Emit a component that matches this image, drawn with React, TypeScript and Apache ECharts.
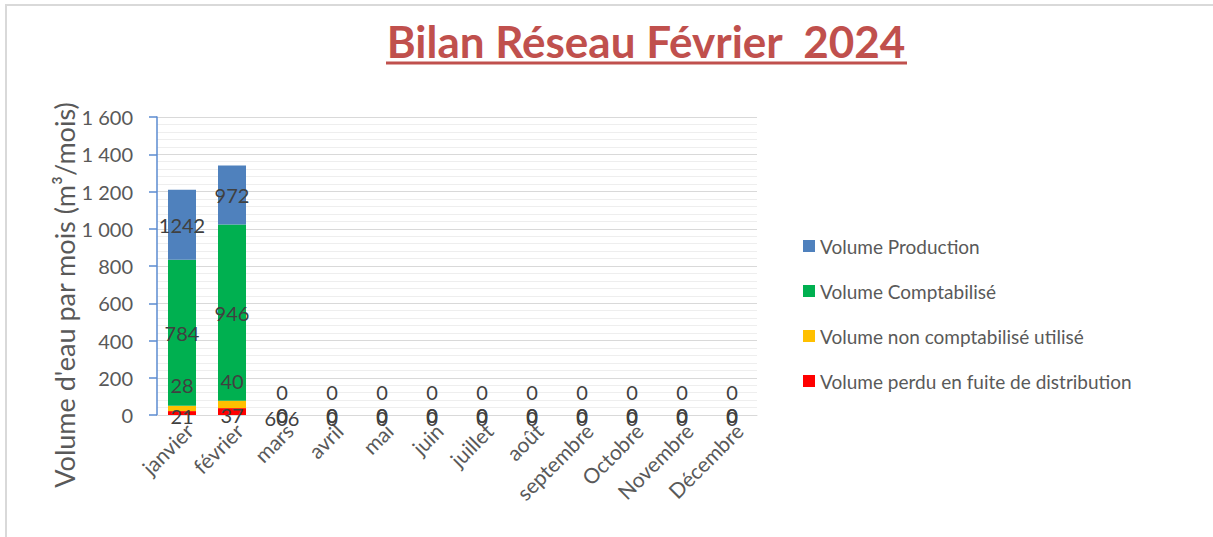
import React, { useEffect, useRef } from "react";
import * as echarts from "echarts";

const months = ["janvier", "février", "mars", "avril", "mai", "juin", "juillet", "août", "septembre", "Octobre", "Novembre", "Décembre"];
// visible stacked heights (m³/mois)
const perdu = [21, 37, 0, 0, 0, 0, 0, 0, 0, 0, 0, 0];
const nonComptabilise = [28, 40, 0, 0, 0, 0, 0, 0, 0, 0, 0, 0];
const comptabilise = [784, 946, 0, 0, 0, 0, 0, 0, 0, 0, 0, 0];
const production = [377, 316, 0, 0, 0, 0, 0, 0, 0, 0, 0, 0];
// data label texts as shown in the chart
const perduLabels = ["21", "37", "606", "0", "0", "0", "0", "0", "0", "0", "0", "0"];
const nonComptaLabels = ["28", "40", "0", "0", "0", "0", "0", "0", "0", "0", "0", "0"];
const comptaLabels = ["784", "946", "0", "0", "0", "0", "0", "0", "0", "0", "0", "0"];
const productionLabels = ["1242", "972", "0", "0", "0", "0", "0", "0", "0", "0", "0", "0"];

const FONT = "Lato, 'Open Sans', sans-serif";

export default function App() {
  const ref = useRef<HTMLDivElement>(null);
  useEffect(() => {
    const chart = echarts.init(ref.current!, null, { renderer: "svg" });
    const lbl = (arr: string[], offset: number[]) => ({
      show: true,
      position: "inside",
      offset,
      fontSize: 20,
      color: "#404040",
      fontFamily: FONT,
      formatter: (p: any) => arr[p.dataIndex],
    });
    chart.setOption({
      animation: false,
      backgroundColor: "#ffffff",
      textStyle: { fontFamily: FONT },
      graphic: [
        { type: "rect", shape: { x: 6, y: 5, width: 1230, height: 560 }, style: { fill: "none", stroke: "#d9d9d9", lineWidth: 2 }, silent: true },
        {
          type: "text",
          x: 646,
          y: 41,
          style: { text: "Bilan Réseau Février  2024", fontSize: 44, fontWeight: "bold", fontFamily: FONT, fill: "#C0504D", textAlign: "center", textVerticalAlign: "middle" },
        },
        { type: "line", shape: { x1: 386, y1: 63, x2: 907, y2: 63 }, style: { stroke: "#C0504D", lineWidth: 3 } },
        {
          type: "text",
          x: 64,
          y: 295,
          rotation: Math.PI / 2,
          style: { text: "Volume d'eau par mois (m³/mois)", fontSize: 27, fontFamily: FONT, fill: "#595959", textAlign: "center", textVerticalAlign: "middle" },
        },
      ],
      legend: {
        orient: "vertical",
        left: 798,
        top: 230,
        itemWidth: 12,
        itemHeight: 12,
        itemGap: 23,
        icon: "rect",
        textStyle: { fontSize: 19, color: "#595959", fontFamily: FONT, lineHeight: 22 },
        data: ["Volume Production", "Volume Comptabilisé", "Volume non comptabilisé utilisé", "Volume perdu en fuite de distribution"],
      },
      grid: { left: 157, top: 117, width: 600, height: 298, containLabel: false },
      xAxis: {
        type: "category",
        data: months,
        axisLine: { lineStyle: { color: "#d9d9d9", width: 1 } },
        axisTick: { show: false },
        axisLabel: { rotate: 45, fontSize: 21, color: "#595959", margin: 19, padding: [0, -10, 0, 0], interval: 0, fontFamily: FONT },
      },
      yAxis: {
        type: "value",
        min: 0,
        max: 1600,
        interval: 200,
        axisLine: { show: true, lineStyle: { color: "#5B8BD0", width: 1.5 } },
        axisTick: { show: true, inside: false, length: 8, lineStyle: { color: "#5B8BD0", width: 1.5 } },
        axisLabel: {
          fontSize: 20,
          color: "#595959",
          margin: 24,
          fontFamily: FONT,
          formatter: (v: number) => (v >= 1000 ? Math.floor(v / 1000) + " " + String(v % 1000).padStart(3, "0") : String(v)),
        },
        splitLine: { show: true, lineStyle: { color: "#d9d9d9", width: 1 } },
        minorTick: { show: false, splitNumber: 5 },
        minorSplitLine: { show: true, lineStyle: { color: "#eeeeee", width: 1 } },
      },
      series: [
        { name: "Volume perdu en fuite de distribution", type: "bar", stack: "v", barWidth: "56%", data: perdu, itemStyle: { color: "#FF0000" }, label: lbl(perduLabels, [0, 3]) },
        { name: "Volume non comptabilisé utilisé", type: "bar", stack: "v", data: nonComptabilise, itemStyle: { color: "#FFC000" }, label: lbl(nonComptaLabels, [0, -23]) },
        { name: "Volume Comptabilisé", type: "bar", stack: "v", data: comptabilise, itemStyle: { color: "#00B050" }, label: lbl(comptaLabels, [0, 0]) },
        { name: "Volume Production", type: "bar", stack: "v", data: production, itemStyle: { color: "#4F81BD" }, label: lbl(productionLabels, [0, 0]) },
      ],
    });
    return () => chart.dispose();
  }, []);
  return <div ref={ref} style={{ position: "absolute", left: 0, top: 0, width: 1213, height: 537 }} />;
}
